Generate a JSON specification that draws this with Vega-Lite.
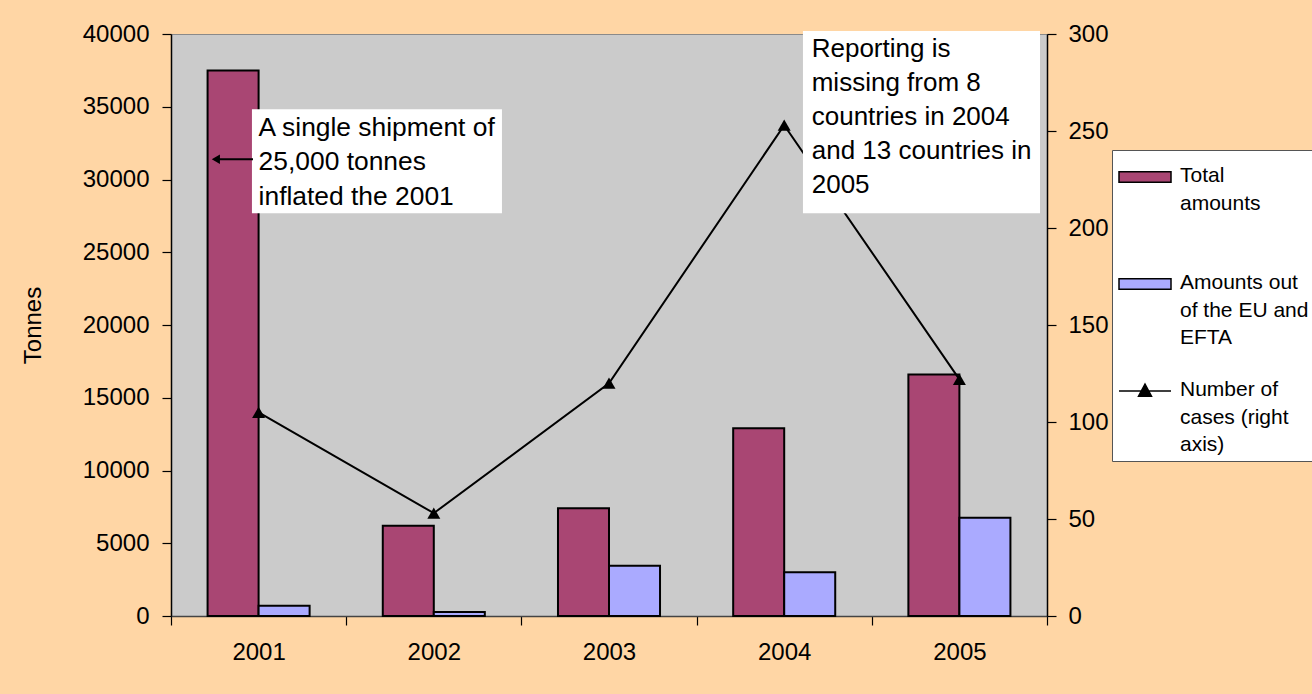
{
  "$schema": "https://vega.github.io/schema/vega-lite/v6.json",
  "width": 876,
  "height": 582,
  "autosize": {"type": "none"},
  "padding": {"left": 171, "top": 34, "right": 265, "bottom": 78},
  "background": "#FFD6A5",
  "config": {
    "font": "Liberation Sans",
    "view": {"fill": "#CBCBCB", "stroke": "#8a8a8a", "strokeWidth": 1},
    "axis": {"grid": false, "labelFont": "Liberation Sans", "titleFont": "Liberation Sans", "labelColor": "black", "titleColor": "black"}
  },
  "datasets": {
    "amounts": [
      {"year": "2001", "series": "Total amounts", "tonnes": 37500},
      {"year": "2001", "series": "Amounts out of the EU and EFTA", "tonnes": 700},
      {"year": "2002", "series": "Total amounts", "tonnes": 6200},
      {"year": "2002", "series": "Amounts out of the EU and EFTA", "tonnes": 280},
      {"year": "2003", "series": "Total amounts", "tonnes": 7400},
      {"year": "2003", "series": "Amounts out of the EU and EFTA", "tonnes": 3450},
      {"year": "2004", "series": "Total amounts", "tonnes": 12900},
      {"year": "2004", "series": "Amounts out of the EU and EFTA", "tonnes": 3000},
      {"year": "2005", "series": "Total amounts", "tonnes": 16600},
      {"year": "2005", "series": "Amounts out of the EU and EFTA", "tonnes": 6750}
    ],
    "cases": [
      {"year": "2001", "cases": 105},
      {"year": "2002", "cases": 53},
      {"year": "2003", "cases": 120},
      {"year": "2004", "cases": 253},
      {"year": "2005", "cases": 122}
    ]
  },
  "resolve": {"scale": {"x": "independent", "y": "independent"}},
  "layer": [
    {
      "data": {"name": "amounts"},
      "mark": {"type": "bar", "stroke": "black", "strokeWidth": 2},
      "encoding": {
        "x": {
          "field": "year", "type": "nominal",
          "scale": {"paddingInner": 0, "paddingOuter": 0},
          "axis": {"title": null, "labelAngle": 0, "tickBand": "extent", "tickSize": 9, "tickColor": "black", "tickWidth": 1.2, "domainColor": "#444", "domainWidth": 1.5, "labelFontSize": 24, "labelPadding": 15}
        },
        "xOffset": {
          "field": "series", "type": "nominal",
          "scale": {"domain": ["Total amounts", "Amounts out of the EU and EFTA"], "paddingInner": 0, "paddingOuter": 0.717}
        },
        "y": {
          "field": "tonnes", "type": "quantitative",
          "scale": {"domain": [0, 40000], "nice": false},
          "axis": {"title": "Tonnes", "values": [0, 5000, 10000, 15000, 20000, 25000, 30000, 35000, 40000], "format": "d", "tickSize": 9, "tickColor": "black", "tickWidth": 1.2, "domainColor": "black", "domainWidth": 1.5, "labelFontSize": 24, "labelPadding": 13, "titleFontSize": 24, "titleFontWeight": "normal", "titlePadding": 37}
        },
        "color": {
          "field": "series", "type": "nominal",
          "scale": {"domain": ["Total amounts", "Amounts out of the EU and EFTA", "Number of cases (right axis)"], "range": ["#A94673", "#AAAAFF", "#000000"]},
          "legend": {
            "title": null,
            "orient": "none",
            "legendX": 941,
            "legendY": 116,
            "fillColor": "white",
            "strokeColor": "#555555",
            "padding": 6,
            "gridAlign": "all",
            "rowPadding": 22,
            "symbolSize": 2704,
            "symbolStrokeColor": "black",
            "symbolStrokeWidth": 1.5,
            "symbolOpacity": 1,
            "labelFontSize": 21,
            "labelFont": "Liberation Sans",
            "labelColor": "black",
            "labelLimit": 400,
            "labelOffset": 8,
            "labelBaseline": "top",
            "labelExpr": "datum.value == 'Total amounts' ? ['Total', 'amounts'] : datum.value == 'Amounts out of the EU and EFTA' ? ['Amounts out', 'of the EU and', 'EFTA'] : ['Number of', 'cases (right', 'axis)']",
            "encode": {
              "symbols": {"update": {"shape": {"signal": "datum.value == 'Number of cases (right axis)' ? 'M-1,0H1M0,-0.27L0.25,0.2L-0.25,0.2Z' : 'M-1,-0.2H1V0.2H-1Z'"}, "yc": {"value": 21}}},
              "labels": {"update": {"lineHeight": {"value": 27.5}, "y": {"value": 21}, "dy": {"value": -12}}}
            }
          }
        }
      }
    },
    {
      "data": {"name": "cases"},
      "mark": {"type": "line", "color": "black", "strokeWidth": 2, "point": {"shape": "triangle-up", "size": 169, "filled": true, "color": "black", "opacity": 1}},
      "encoding": {
        "x": {"field": "year", "type": "nominal", "scale": {"paddingInner": 0, "paddingOuter": 0}, "axis": null},
        "y": {
          "field": "cases", "type": "quantitative",
          "scale": {"domain": [0, 300], "nice": false},
          "axis": {"orient": "right", "title": null, "values": [0, 50, 100, 150, 200, 250, 300], "tickSize": 9, "tickColor": "black", "tickWidth": 1.2, "domainColor": "black", "domainWidth": 1.5, "labelFontSize": 24, "labelPadding": 12}
        }
      }
    },
    {
      "data": {"values": [{}]},
      "mark": {"type": "rect", "fill": "white", "stroke": null},
      "encoding": {
        "x": {"datum": 0.462, "type": "quantitative", "scale": {"domain": [0, 5], "nice": false, "zero": false}, "axis": null},
        "x2": {"datum": 1.889},
        "y": {"datum": 34825, "type": "quantitative", "scale": {"domain": [0, 40000], "nice": false}, "axis": null},
        "y2": {"datum": 27677}
      }
    },
    {
      "data": {"values": [{}]},
      "mark": {"type": "rect", "fill": "white", "stroke": null, "clip": false},
      "encoding": {
        "x": {"datum": 3.607, "type": "quantitative", "scale": {"domain": [0, 5], "nice": false, "zero": false}, "axis": null},
        "x2": {"datum": 4.96},
        "y": {"datum": 40206, "type": "quantitative", "scale": {"domain": [0, 40000], "nice": false}, "axis": null},
        "y2": {"datum": 27677}
      }
    },
    {
      "data": {"values": [{}]},
      "mark": {"type": "text", "text": ["A single shipment of", "25,000 tonnes", "inflated the 2001"], "align": "left", "baseline": "alphabetic", "fontSize": 26.4, "lineHeight": 34.3, "font": "Liberation Sans", "color": "black"},
      "encoding": {
        "x": {"datum": 0.5, "type": "quantitative", "scale": {"domain": [0, 5], "nice": false, "zero": false}, "axis": null},
        "y": {"datum": 32990, "type": "quantitative", "scale": {"domain": [0, 40000], "nice": false}, "axis": null}
      }
    },
    {
      "data": {"values": [{}]},
      "mark": {"type": "text", "text": ["Reporting is", "missing from 8", "countries in 2004", "and 13 countries in", "2005"], "align": "left", "baseline": "alphabetic", "fontSize": 26, "lineHeight": 34.2, "font": "Liberation Sans", "color": "black"},
      "encoding": {
        "x": {"datum": 3.657, "type": "quantitative", "scale": {"domain": [0, 5], "nice": false, "zero": false}, "axis": null},
        "y": {"datum": 38440, "type": "quantitative", "scale": {"domain": [0, 40000], "nice": false}, "axis": null}
      }
    },
    {
      "data": {"values": [{}]},
      "mark": {"type": "rule", "color": "black", "strokeWidth": 2},
      "encoding": {
        "x": {"datum": 0.254, "type": "quantitative", "scale": {"domain": [0, 5], "nice": false, "zero": false}, "axis": null},
        "x2": {"datum": 0.468},
        "y": {"datum": 31388, "type": "quantitative", "scale": {"domain": [0, 40000], "nice": false}, "axis": null}
      }
    },
    {
      "data": {"values": [{}]},
      "mark": {"type": "point", "shape": "triangle-left", "size": 90, "filled": true, "color": "black", "opacity": 1},
      "encoding": {
        "x": {"datum": 0.256, "type": "quantitative", "scale": {"domain": [0, 5], "nice": false, "zero": false}, "axis": null},
        "y": {"datum": 31388, "type": "quantitative", "scale": {"domain": [0, 40000], "nice": false}, "axis": null}
      }
    }
  ]
}
